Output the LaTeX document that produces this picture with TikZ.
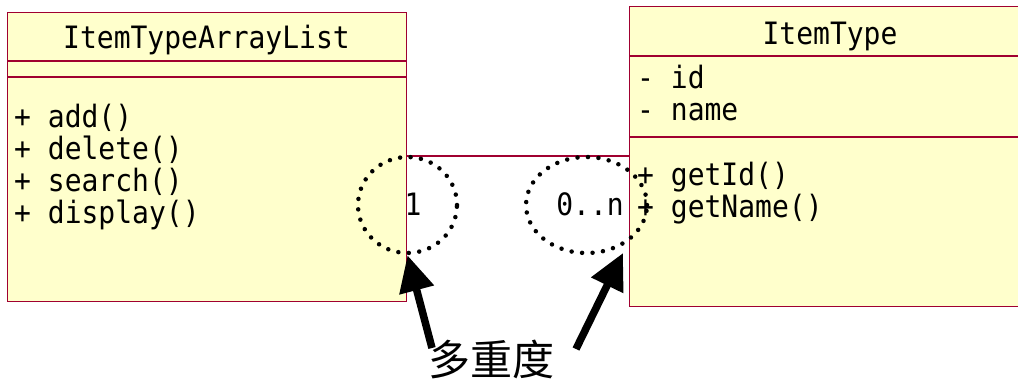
\documentclass[tikz,border=0pt]{standalone}
\usepackage{fontspec}
\usetikzlibrary{arrows.meta,shapes.geometric}
\newfontfamily\umlfont{DejaVu Sans Mono}
\newfontfamily\cjkfont{Noto Sans CJK SC}
\definecolor{umlred}{RGB}{160,0,48}
\definecolor{umlfill}{RGB}{255,255,204}
\newcommand{\tallt}[1]{\scalebox{1}[1.1]{#1}}
\begin{document}
\begin{tikzpicture}[x=1pt,y=-1pt,
 classbox/.style={draw=umlred, fill=umlfill, line width=1.3pt, inner sep=0pt, anchor=north west},
 divider/.style={draw=umlred, line width=1.3pt},
 umltext/.style={font=\umlfont\fontsize{28}{32}\selectfont, inner sep=0pt, anchor=base west},
 classtitle/.style={umltext, anchor=base},
 dotell/.style={ellipse, draw=black, line width=4.5pt, line cap=round, dash pattern=on 0pt off 10.5pt, inner sep=0pt},
 bigarrow/.style={line width=7.5pt, -{Triangle[length=36pt,width=34pt]}},
]
\useasboundingbox (0,0) rectangle (1018,380);
\begin{scope}
\clip (0,0) rectangle (1018,380);
% class boxes
\node[classbox, minimum width=399pt, minimum height=289pt] (L) at (7,12) {};
\node[classbox, minimum width=420pt, minimum height=300pt] (R) at (629,6) {};
\draw[divider] (L.west |- 0,61) -- (L.east |- 0,61);
\draw[divider] (L.west |- 0,77) -- (L.east |- 0,77);
\draw[divider] (R.west |- 0,56) -- (R.east |- 0,56);
\draw[divider] (R.west |- 0,137) -- (R.east |- 0,137);
% association
\draw[divider] (L.east |- 0,156) -- (R.west |- 0,156);
% left class text
\node[classtitle] (Ltitle) at (206.5,48) {\tallt{ItemTypeArrayList}};
\node[umltext] (Lm1) at (14,127) {\tallt{+ add()}};
\node[umltext] (Lm2) at (14,159) {\tallt{+ delete()}};
\node[umltext] (Lm3) at (14,191) {\tallt{+ search()}};
\node[umltext] (Lm4) at (14,223) {\tallt{+ display()}};
% right class text
\node[classtitle] (Rtitle) at (830,45) {\tallt{ItemType}};
\node[umltext] (Ra1) at (637,88) {\tallt{- id}};
\node[umltext] (Ra2) at (637,120) {\tallt{- name}};
\node[umltext] (Rm1) at (637,185) {\tallt{+ getId()}};
\node[umltext] (Rm2) at (637,217) {\tallt{+ getName()}};
% multiplicities
\node[umltext, anchor=base] (mult1) at (413,215) {\tallt{1}};
\node[umltext, anchor=base east] (multn) at (624,215) {\tallt{0..n}};
% dotted ellipses
\node[dotell, minimum width=99pt, minimum height=96pt] (E1) at (407.5,205) {};
\node[dotell, minimum width=121pt, minimum height=96pt] (E2) at (586.5,205) {};
% label and arrows
\node[font=\cjkfont\fontsize{42}{42}\selectfont, inner sep=0pt] (lab) at (491,359) {多重度};
\coordinate (t1) at (432,348);
\coordinate (t2) at (576,349);
\coordinate (h2) at (623,253);
\draw[bigarrow] (t1) -- (E1.south);
\draw[bigarrow] (t2) -- (h2);
\end{scope}
\end{tikzpicture}
\end{document}
